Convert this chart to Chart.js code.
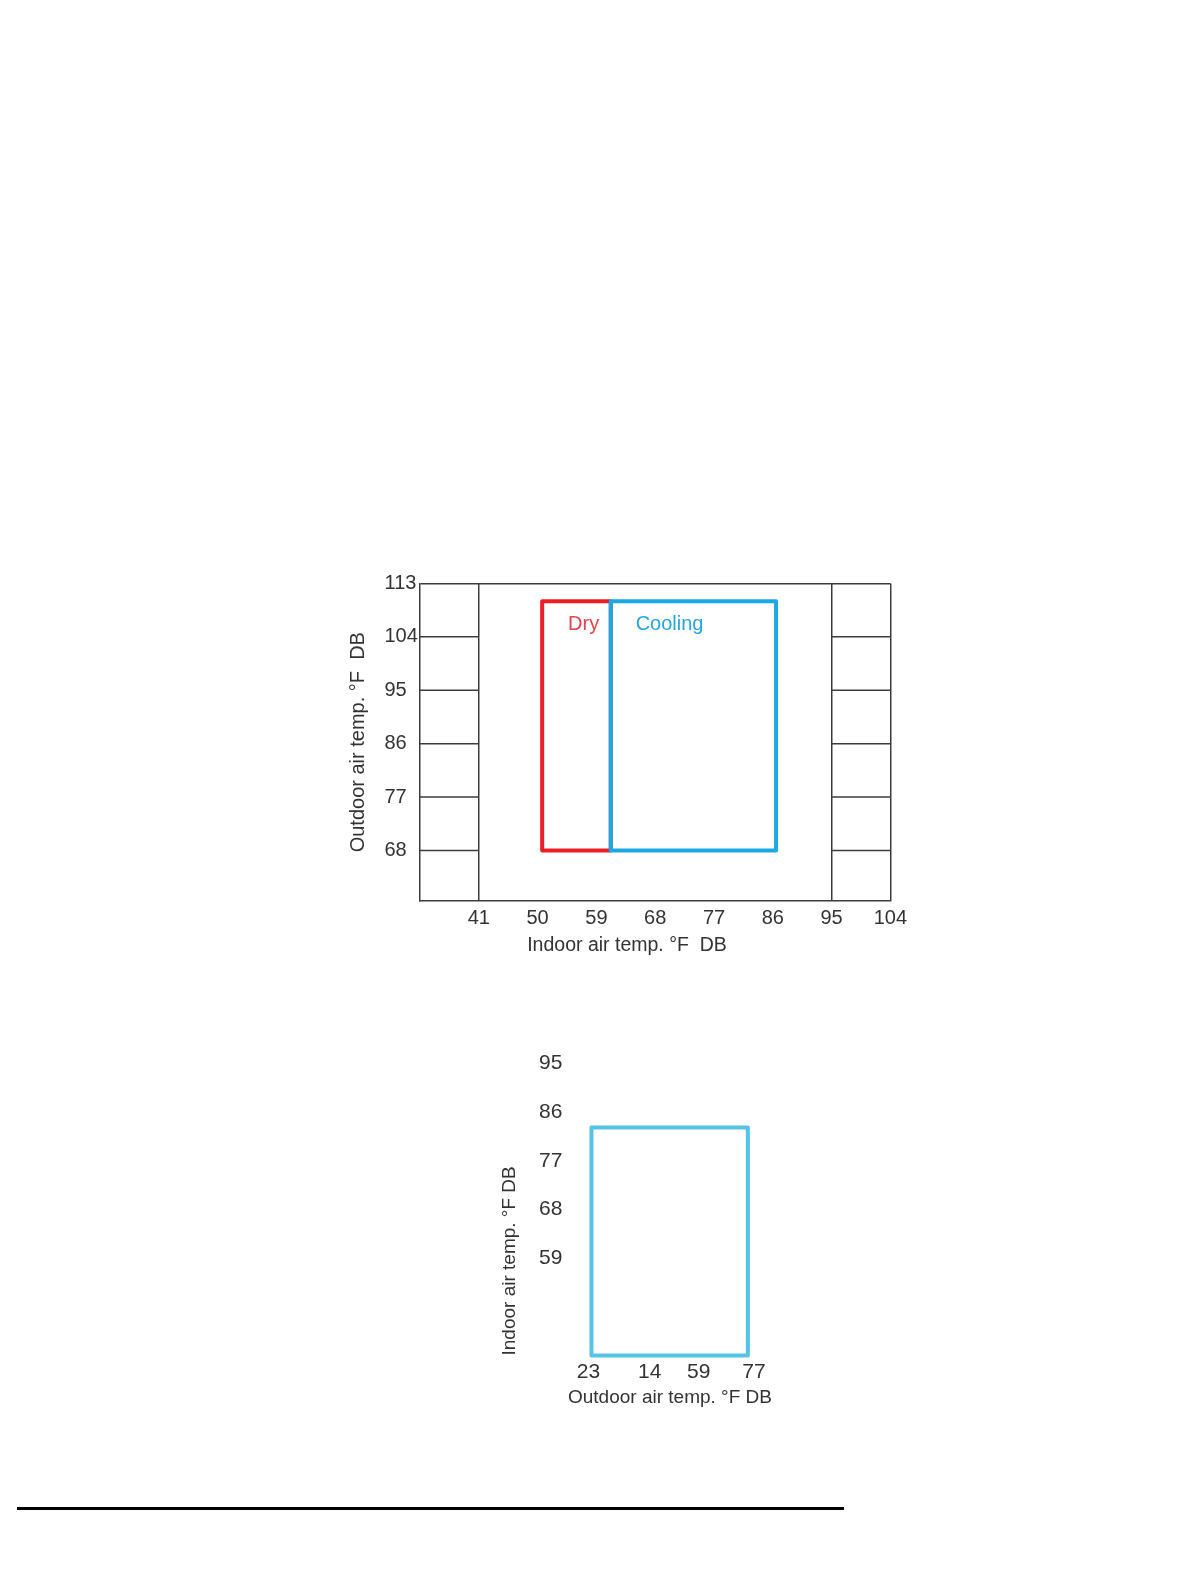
<!DOCTYPE html>
<html>
<head>
<meta charset="utf-8">
<script src="https://cdn.jsdelivr.net/npm/chart.js@4.4.0/dist/chart.umd.min.js"></script>
<style>
	body { margin: 0; background: #fff; width: 1199px; height: 1583px; position: relative; overflow: hidden; }
	#topWrap { position: absolute; left: 330px; top: 560px; width: 594px; height: 410px; }
	#bottomWrap { position: absolute; left: 480px; top: 1025px; width: 380px; height: 395px; }
	#rule { position: absolute; left: 17px; top: 1507px; width: 827px; height: 3px; background: #000; }
</style>
</head>
<body>
<div id="topWrap"><canvas id="rangeChart"></canvas></div>
<div id="bottomWrap"><canvas id="heatChart"></canvas></div>
<div id="rule"></div>
<script>
// operating range chart (top)
let indoorTicks = [41, 50, 59, 68, 77, 86, 95, 104];
let outdoorTicks = [68, 77, 86, 95, 104, 113];
let dryIndoor = [50.7, 61.2];
let dryOutdoor = [68, 110];
let coolIndoor = [61.2, 86.5];
let coolOutdoor = [68, 110];
let regionNames = ["Dry", "Cooling"];

// second chart (bottom)
let lowerXTicks = [23, 43, 59, 77];
let lowerXLabels = ["23", "14", "59", "77"];
let lowerYTicks = [59, 68, 77, 86, 95];
let lowerOutdoor = [24, 75];
let lowerIndoor = [41, 83.2];

Chart.defaults.font.family = "'Liberation Sans', Arial, sans-serif";
Chart.defaults.color = "#333";

function box(xs, ys) {
	return [
		{ x: xs[0], y: ys[0] },
		{ x: xs[1], y: ys[0] },
		{ x: xs[1], y: ys[1] },
		{ x: xs[0], y: ys[1] },
		{ x: xs[0], y: ys[0] }
	];
}

function rectSet(label, xs, ys, color) {
	return {
		label: label,
		data: box(xs, ys),
		showLine: true,
		borderColor: color,
		borderWidth: 4,
		borderJoinStyle: "round",
		borderCapStyle: "round",
		pointRadius: 0,
		tension: 0,
		clip: false
	};
}

let lineColor = "#3c3c3c";

// short rules in the two outer columns
const sideRules = {
	id: "sideRules",
	beforeDatasetsDraw(chart) {
		let x = chart.scales.x;
		let y = chart.scales.y;
		let ctx = chart.ctx;
		ctx.save();
		ctx.strokeStyle = lineColor;
		ctx.lineWidth = 1.5;
		outdoorTicks.slice(0, -1).forEach(function (v) {
			let py = y.getPixelForValue(v);
			ctx.beginPath();
			ctx.moveTo(x.getPixelForValue(x.min), py);
			ctx.lineTo(x.getPixelForValue(indoorTicks[0]), py);
			ctx.moveTo(x.getPixelForValue(indoorTicks[6]), py);
			ctx.lineTo(x.getPixelForValue(x.max), py);
			ctx.stroke();
		});
		ctx.restore();
	}
};

const regionLabels = {
	id: "regionLabels",
	afterDatasetsDraw(chart, args, opts) {
		let ctx = chart.ctx;
		ctx.save();
		ctx.font = "20px 'Liberation Sans', Arial, sans-serif";
		ctx.textAlign = "center";
		ctx.textBaseline = "middle";
		opts.items.forEach(function (it) {
			ctx.fillStyle = it.color;
			ctx.fillText(it.text, chart.scales.x.getPixelForValue(it.x), chart.scales.y.getPixelForValue(it.y));
		});
		ctx.restore();
	}
};

function spacer(pos, w) {
	return {
		type: "linear",
		position: pos,
		min: 0,
		max: 1,
		afterFit: function (s) { s.width = w; },
		grid: { display: false },
		border: { display: false },
		ticks: { display: false }
	};
}

let ctx = document.getElementById("rangeChart").getContext("2d");
let rangeChart = new Chart(ctx, {
	type: "scatter",
	data: {
		datasets: [
			rectSet(regionNames[1], coolIndoor, coolOutdoor, "#1aa9e4"),
			rectSet(regionNames[0], dryIndoor, dryOutdoor, "#ee1c25")
		]
	},
	options: {
		responsive: true,
		maintainAspectRatio: false,
		animation: false,
		layout: { padding: { top: 23.4, left: 0, right: 0, bottom: 0 } },
		plugins: {
			legend: { display: false },
			tooltip: { enabled: false },
			title: {
				display: true,
				position: "bottom",
				text: "Indoor air temp. °F  DB",
				color: "#333",
				font: { size: 19.5, weight: "normal" },
				padding: { top: 0, bottom: 12.6 }
			},
			regionLabels: {
				items: [
					{ text: regionNames[0], x: 57.05, y: 106, color: "#e6424a" },
					{ text: regionNames[1], x: 70.2, y: 106, color: "#22a7e0" }
				]
			}
		},
		scales: {
			x: {
				type: "linear",
				min: 32,
				max: 104,
				afterBuildTicks: function (s) { s.ticks = indoorTicks.map(v => ({ value: v })); },
				afterFit: function (s) { s.height = 33; },
				grid: {
					drawTicks: false,
					lineWidth: 1.5,
					color: c => ([41, 95, 104].includes(c.tick.value) ? lineColor : "rgba(0,0,0,0)")
				},
				border: { display: true, color: lineColor, width: 1.5 },
				ticks: { padding: 5, font: { size: 20 }, color: "#333", maxRotation: 0 }
			},
			y: {
				type: "linear",
				min: 59.5,
				max: 113,
				afterBuildTicks: function (s) { s.ticks = outdoorTicks.map(v => ({ value: v })); },
				afterFit: function (s) { s.width = 35.5; },
				grid: {
					drawTicks: false,
					lineWidth: 1.5,
					color: c => (c.tick.value === 113 ? lineColor : "rgba(0,0,0,0)")
				},
				border: { display: true, color: lineColor, width: 1.5 },
				ticks: { crossAlign: "far", font: { size: 20 }, color: "#333" }
			},
			yTitle: Object.assign(spacer("left", 54.5), {
				weight: 10,
				title: {
					display: true,
					text: "Outdoor air temp. °F  DB",
					color: "#333",
					font: { size: 20 },
					padding: { top: 16, bottom: 0 }
				}
			}),
			yRight: spacer("right", 33.6)
		}
	},
	plugins: [sideRules, regionLabels]
});

let ctx2 = document.getElementById("heatChart").getContext("2d");
let heatChart = new Chart(ctx2, {
	type: "scatter",
	data: {
		datasets: [rectSet("Range", lowerOutdoor, lowerIndoor, "#55c3e9")]
	},
	options: {
		responsive: true,
		maintainAspectRatio: false,
		animation: false,
		layout: { padding: 0 },
		plugins: {
			legend: { display: false },
			tooltip: { enabled: false },
			title: {
				display: true,
				position: "bottom",
				text: "Outdoor air temp. °F DB",
				color: "#333",
				font: { size: 19, weight: "normal" },
				padding: { top: 0, bottom: 10.7 }
			}
		},
		scales: {
			x: {
				type: "linear",
				min: 23,
				max: 77,
				afterBuildTicks: function (s) { s.ticks = lowerXTicks.map(v => ({ value: v })); },
				afterFit: function (s) { s.height = 31; },
				grid: { display: false, drawTicks: false },
				border: { display: false },
				ticks: {
					padding: 4,
					font: { size: 21 },
					color: "#333",
					maxRotation: 0,
					callback: v => lowerXLabels[lowerXTicks.indexOf(v)]
				}
			},
			y: {
				type: "linear",
				min: 41,
				max: 95,
				afterBuildTicks: function (s) { s.ticks = lowerYTicks.map(v => ({ value: v })); },
				afterFit: function (s) { s.width = 108.4; },
				grid: { display: false, drawTicks: false },
				border: { display: false },
				ticks: { padding: 26, font: { size: 21 }, color: "#333" },
				title: {
					display: true,
					align: "start",
					text: "Indoor air temp. °F DB",
					color: "#333",
					font: { size: 19 },
					padding: { top: 18.3, bottom: 0 }
				}
			},
			xRight: spacer("right", 106)
		}
	}
});
</script>
</body>
</html>
